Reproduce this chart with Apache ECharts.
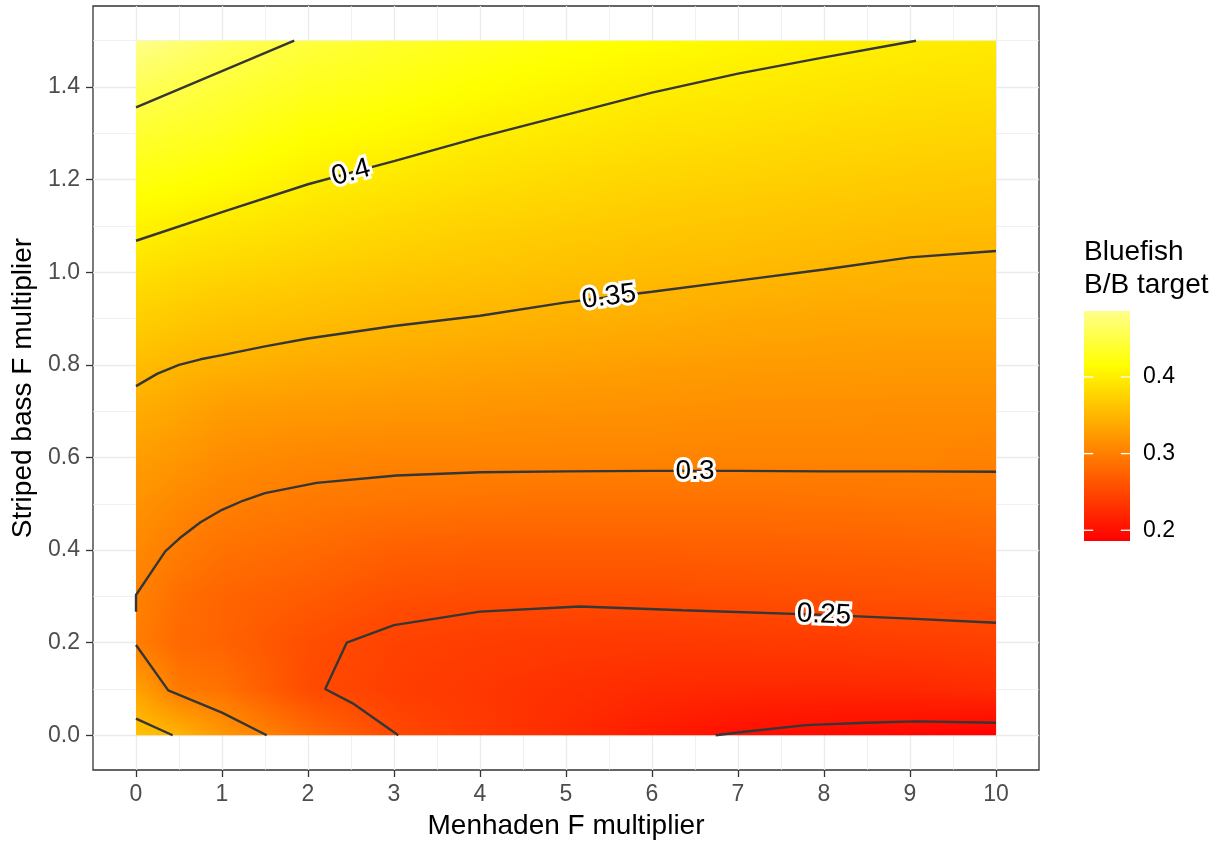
<!DOCTYPE html>
<html>
<head>
<meta charset="utf-8">
<script src="https://cdn.jsdelivr.net/npm/echarts@6/dist/echarts.min.js"></script>
<style>
html,body{margin:0;padding:0;background:#fff;}
#chart{width:1227px;height:845px;}
</style>
</head>
<body>
<div id="chart"></div>
<script>
// ---------------- data ----------------
const menhadenF = [0, 0.5, 1, 2, 3, 4, 5, 6, 7, 8, 9, 10];
const stripedBassF = [0, 0.1, 0.2, 0.3, 0.4, 0.5, 0.6, 0.7, 0.8, 0.9, 1.0, 1.1, 1.2, 1.3, 1.4, 1.5];

// Bluefish B/B target, one row per striped bass F multiplier, across menhadenF
const bb_y00 = [0.362, 0.347, 0.322, 0.284, 0.251, 0.237, 0.224, 0.210, 0.199, 0.195, 0.192, 0.186];
const bb_y01 = [0.331, 0.295, 0.288, 0.253, 0.242, 0.235, 0.229, 0.224, 0.222, 0.221, 0.222, 0.226];
const bb_y02 = [0.299, 0.280, 0.275, 0.256, 0.245, 0.241, 0.238, 0.237, 0.238, 0.239, 0.241, 0.243];
const bb_y03 = [0.302, 0.285, 0.276, 0.268, 0.257, 0.254, 0.254, 0.254, 0.256, 0.257, 0.258, 0.259];
const bb_y04 = [0.309, 0.297, 0.288, 0.281, 0.272, 0.270, 0.270, 0.270, 0.271, 0.272, 0.273, 0.275];
const bb_y05 = [0.318, 0.308, 0.301, 0.294, 0.290, 0.288, 0.287, 0.287, 0.287, 0.288, 0.289, 0.291];
const bb_y06 = [0.328, 0.321, 0.313, 0.307, 0.305, 0.305, 0.305, 0.305, 0.304, 0.304, 0.304, 0.303];
const bb_y07 = [0.341, 0.334, 0.326, 0.323, 0.321, 0.319, 0.317, 0.316, 0.314, 0.314, 0.313, 0.313];
const bb_y08 = [0.356, 0.349, 0.346, 0.340, 0.337, 0.333, 0.331, 0.328, 0.326, 0.325, 0.324, 0.324];
const bb_y09 = [0.372, 0.366, 0.362, 0.357, 0.352, 0.349, 0.345, 0.342, 0.338, 0.336, 0.335, 0.335];
const bb_y10 = [0.388, 0.382, 0.378, 0.372, 0.366, 0.362, 0.358, 0.355, 0.352, 0.349, 0.346, 0.345];
const bb_y11 = [0.405, 0.399, 0.395, 0.387, 0.380, 0.374, 0.370, 0.366, 0.363, 0.360, 0.357, 0.356];
const bb_y12 = [0.423, 0.418, 0.413, 0.401, 0.394, 0.387, 0.382, 0.377, 0.374, 0.371, 0.368, 0.366];
const bb_y13 = [0.440, 0.435, 0.430, 0.416, 0.409, 0.400, 0.395, 0.389, 0.386, 0.382, 0.379, 0.377];
const bb_y14 = [0.459, 0.452, 0.444, 0.431, 0.423, 0.414, 0.407, 0.401, 0.397, 0.393, 0.389, 0.387];
const bb_y15 = [0.486, 0.473, 0.461, 0.446, 0.436, 0.428, 0.420, 0.414, 0.409, 0.404, 0.400, 0.397];
const bbRows = [bb_y00, bb_y01, bb_y02, bb_y03, bb_y04, bb_y05, bb_y06, bb_y07,
                bb_y08, bb_y09, bb_y10, bb_y11, bb_y12, bb_y13, bb_y14, bb_y15];

// contour lines [menhadenF, stripedBassF]
const contour_020 = [[6.74, 0], [7.05, 0.007], [7.79, 0.022], [8.49, 0.027], [9.07, 0.030], [10, 0.027]];
const contour_025 = [[3.05, 0], [2.52, 0.069], [2.2, 0.1], [2.45, 0.2], [3.0, 0.238], [4.0, 0.267],
                     [5.16, 0.278], [6.36, 0.270], [8.0, 0.260], [9.0, 0.252], [10, 0.243]];
const contour_030_low = [[0, 0.195], [0.375, 0.097], [1.0, 0.049], [1.52, 0]];
const contour_030 = [[0, 0.267], [0, 0.303], [0.34, 0.397], [0.51, 0.426], [0.75, 0.46], [1.0, 0.487],
                     [1.25, 0.507], [1.5, 0.523], [2.1, 0.545], [3.03, 0.561], [4.0, 0.568], [5.0, 0.570],
                     [6.0, 0.571], [7.0, 0.571], [8.0, 0.570], [9.0, 0.570], [10, 0.569]];
const contour_035_corner = [[0, 0.036], [0.426, 0]];
const contour_035 = [[0, 0.754], [0.25, 0.781], [0.5, 0.800], [0.75, 0.812], [1.0, 0.821], [1.5, 0.840],
                     [2.0, 0.857], [3.0, 0.884], [4.0, 0.906], [5.0, 0.935], [6.0, 0.958], [7.0, 0.982],
                     [8.0, 1.006], [9.0, 1.032], [10, 1.046]];
const contour_040 = [[0, 1.068], [1.0, 1.130], [2.0, 1.190], [2.5, 1.215], [3.0, 1.240], [4.0, 1.292],
                     [5.0, 1.340], [6.0, 1.388], [7.0, 1.429], [8.0, 1.464], [9.07, 1.5]];
const contour_045 = [[0, 1.356], [1.84, 1.5]];
const contourLines = [contour_020, contour_025, contour_030_low, contour_030,
                      contour_035_corner, contour_035, contour_040, contour_045];

const contourLabelText = ['0.4', '0.35', '0.3', '0.25'];
const contourLabelX = [2.5, 5.5, 6.5, 8.0];
const contourLabelLines = [contour_040, contour_035, contour_030, contour_025];

// axis ticks
const xMajorTicks = [0, 1, 2, 3, 4, 5, 6, 7, 8, 9, 10];
const xMinorTicks = [0.5, 1.5, 2.5, 3.5, 4.5, 5.5, 6.5, 7.5, 8.5, 9.5];
const yMajorTicks = [0, 0.2, 0.4, 0.6, 0.8, 1.0, 1.2, 1.4];
const yMinorTicks = [0.1, 0.3, 0.5, 0.7, 0.9, 1.1, 1.3, 1.5];
const legendTicks = [0.2, 0.3, 0.4];

// ---------------- colour scale ----------------
const FONT = "'Liberation Sans', Arial, Helvetica, sans-serif";
const allVals = bbRows.flat();
const vmin = Math.min(...allVals);
const vmax = Math.max(...allVals);
const colorKnots = [vmin, 0.415, vmax];
const colorRGB = [[255, 0, 0], [255, 255, 0], [255, 255, 140]];

function rgbStr(c) { return 'rgb(' + c.map(Math.round).join(',') + ')'; }
function colorOf(v) {
  if (v <= colorKnots[0]) return rgbStr(colorRGB[0]);
  for (let k = 0; k < colorKnots.length - 1; k++) {
    if (v <= colorKnots[k + 1]) {
      const t = (v - colorKnots[k]) / (colorKnots[k + 1] - colorKnots[k]);
      const a = colorRGB[k], b = colorRGB[k + 1];
      return rgbStr([a[0] + (b[0] - a[0]) * t, a[1] + (b[1] - a[1]) * t, a[2] + (b[2] - a[2]) * t]);
    }
  }
  return rgbStr(colorRGB[colorRGB.length - 1]);
}
function gradStops(va, vb) {
  const stops = [{ offset: 0, color: colorOf(va) }];
  if (vb !== va) {
    const lo = Math.min(va, vb), hi = Math.max(va, vb);
    colorKnots.forEach(function (kv) {
      if (kv > lo && kv < hi) stops.push({ offset: (kv - va) / (vb - va), color: colorOf(kv) });
    });
  }
  stops.push({ offset: 1, color: colorOf(vb) });
  stops.sort(function (a, b) { return a.offset - b.offset; });
  return stops;
}

// ---------------- heat cells ----------------
const cellData = [];
for (let j = 0; j < stripedBassF.length - 1; j++) {
  for (let i = 0; i < menhadenF.length - 1; i++) {
    cellData.push([menhadenF[i], stripedBassF[j], menhadenF[i + 1], stripedBassF[j + 1],
                   bbRows[j][i], bbRows[j][i + 1], bbRows[j + 1][i], bbRows[j + 1][i + 1]]);
  }
}
const xEnd = menhadenF[menhadenF.length - 1];
const yStart = stripedBassF[0];

function renderCell(params, api) {
  const x0 = api.value(0), y0 = api.value(1), x1 = api.value(2), y1 = api.value(3);
  const v00 = api.value(4), v10 = api.value(5), v01 = api.value(6), v11 = api.value(7);
  const pBL = api.coord([x0, y0]), pTR = api.coord([x1, y1]);
  const left = pBL[0], right = pTR[0], top = pTR[1], bottom = pBL[1];
  const H = bottom - top;
  const n = Math.max(1, Math.round(H / 2));
  const w = right - left + (x1 < xEnd ? 0.8 : 0);
  const children = [];
  for (let k = 0; k < n; k++) {
    const ya = top + H * k / n, yb = top + H * (k + 1) / n;
    const t = 1 - (k + 0.5) / n;
    const vl = v00 + (v01 - v00) * t, vr = v10 + (v11 - v10) * t;
    const extra = (k < n - 1 || y0 > yStart) ? 0.8 : 0;
    children.push({
      type: 'rect',
      shape: { x: left, y: ya, width: w, height: yb - ya + extra },
      style: { fill: { type: 'linear', x: 0, y: 0, x2: 1, y2: 0, colorStops: gradStops(vl, vr), global: false } },
      silent: true
    });
  }
  return { type: 'group', children: children };
}

// ---------------- contour labels ----------------
function yOnLine(line, x) {
  let res = null;
  for (let i = 0; i < line.length - 1; i++) {
    const a = line[i], b = line[i + 1];
    if (a[0] === b[0]) continue;
    if ((a[0] <= x && x <= b[0]) || (b[0] <= x && x <= a[0])) {
      res = a[1] + (b[1] - a[1]) * (x - a[0]) / (b[0] - a[0]);
    }
  }
  return res;
}
const labelData = contourLabelX.map(function (x, i) { return [x, yOnLine(contourLabelLines[i], x)]; });

function renderLabel(params, api) {
  const i = params.dataIndex;
  const line = contourLabelLines[i];
  const x = api.value(0), y = api.value(1);
  const c = api.coord([x, y]);
  const pa = api.coord([x - 0.3, yOnLine(line, x - 0.3)]);
  const pb = api.coord([x + 0.3, yOnLine(line, x + 0.3)]);
  const rot = -Math.atan2(pb[1] - pa[1], pb[0] - pa[0]);
  const txt = contourLabelText[i];
  return {
    type: 'group',
    children: [
      { type: 'text', x: c[0], y: c[1], rotation: rot, silent: true,
        style: { text: txt, fontSize: 28, fontFamily: FONT, fill: '#ffffff', stroke: '#ffffff', lineWidth: 6,
                 align: 'center', verticalAlign: 'middle' } },
      { type: 'text', x: c[0], y: c[1], rotation: rot, silent: true,
        style: { text: txt, fontSize: 28, fontFamily: FONT, fill: '#000000',
                 align: 'center', verticalAlign: 'middle' } }
    ]
  };
}

// ---------------- colour bar ----------------
function renderBar(params, api) {
  const pTop = api.coord([0, vmax]), pBot = api.coord([1, vmin]);
  const x = pTop[0], y = pTop[1], w = pBot[0] - pTop[0], h = pBot[1] - pTop[1];
  const children = [{
    type: 'rect', shape: { x: x, y: y, width: w, height: h }, silent: true,
    style: { fill: { type: 'linear', x: 0, y: 0, x2: 0, y2: 1, colorStops: gradStops(vmax, vmin), global: false } }
  }];
  legendTicks.forEach(function (v) {
    const p = api.coord([0, v]);
    children.push({ type: 'line', silent: true, shape: { x1: x, y1: p[1], x2: x + w / 5, y2: p[1] },
                    style: { stroke: '#ffffff', lineWidth: 1.3 } });
    children.push({ type: 'line', silent: true, shape: { x1: x + w - w / 5, y1: p[1], x2: x + w, y2: p[1] },
                    style: { stroke: '#ffffff', lineWidth: 1.3 } });
  });
  return { type: 'group', children: children };
}

// ---------------- chart ----------------
const chart = echarts.init(document.getElementById('chart'), null, { renderer: 'canvas' });
const tickLine = { color: '#333333', width: 1.3 };
const majorGrid = { color: '#EBEBEB', width: 1.3 };
const minorGrid = { color: '#EBEBEB', width: 0.7 };

const series = [{
  type: 'custom', name: 'heat', xAxisIndex: 0, yAxisIndex: 0, renderItem: renderCell,
  data: cellData, encode: { x: [0, 2], y: [1, 3] }, z: 2, silent: true, animation: false
}];
contourLines.forEach(function (line) {
  series.push({
    type: 'line', xAxisIndex: 0, yAxisIndex: 0, data: line, symbol: 'none', showSymbol: false,
    lineStyle: { color: '#363636', width: 2.4 }, z: 3, silent: true, animation: false
  });
});
series.push({
  type: 'custom', name: 'labels', xAxisIndex: 0, yAxisIndex: 0, renderItem: renderLabel,
  data: labelData, z: 5, silent: true, animation: false
});
series.push({
  type: 'custom', name: 'bar', xAxisIndex: 2, yAxisIndex: 2, renderItem: renderBar,
  data: [[0, vmin]], z: 2, silent: true, animation: false
});

chart.setOption({
  animation: false,
  backgroundColor: '#ffffff',
  textStyle: { fontFamily: FONT },
  title: {
    text: 'Bluefish\nB/B target', left: 1084, top: 236, padding: 0,
    textStyle: { fontSize: 28, fontWeight: 'normal', color: '#000000', lineHeight: 33, fontFamily: FONT }
  },
  grid: [
    { left: 93, top: 6, width: 946, height: 764, show: true, borderColor: '#333333', borderWidth: 1.3,
      backgroundColor: '#ffffff', containLabel: false, outerBoundsMode: 'none' },
    { left: 1084, top: 311, width: 46, height: 230, containLabel: false, outerBoundsMode: 'none' }
  ],
  xAxis: [
    { gridIndex: 0, type: 'value', min: -0.5, max: 10.5, position: 'bottom',
      axisLine: { show: false, onZero: false },
      axisTick: { show: true, customValues: xMajorTicks, length: 7, lineStyle: tickLine },
      axisLabel: { customValues: xMajorTicks, formatter: function (v) { return String(v); },
                   color: '#4D4D4D', fontSize: 23, margin: 13, fontFamily: FONT },
      splitLine: { show: true, lineStyle: majorGrid },
      name: 'Menhaden F multiplier', nameLocation: 'middle', nameGap: 42,
      nameTextStyle: { fontSize: 28, color: '#000000', lineHeight: 28, fontFamily: FONT } },
    { gridIndex: 0, type: 'value', min: -0.5, max: 10.5, position: 'top',
      axisLine: { show: false, onZero: false },
      axisTick: { show: false, customValues: xMinorTicks },
      axisLabel: { show: false, customValues: xMinorTicks },
      splitLine: { show: true, lineStyle: minorGrid } },
    { gridIndex: 1, type: 'value', min: 0, max: 1, show: false }
  ],
  yAxis: [
    { gridIndex: 0, type: 'value', min: -0.075, max: 1.575, position: 'left',
      axisLine: { show: false, onZero: false },
      axisTick: { show: true, customValues: yMajorTicks, length: 7, lineStyle: tickLine },
      axisLabel: { customValues: yMajorTicks, formatter: function (v) { return v.toFixed(1); },
                   color: '#4D4D4D', fontSize: 23, margin: 13, fontFamily: FONT },
      splitLine: { show: true, lineStyle: majorGrid },
      name: 'Striped bass F multiplier', nameLocation: 'middle', nameGap: 52,
      nameTextStyle: { fontSize: 28, color: '#000000', lineHeight: 28, fontFamily: FONT } },
    { gridIndex: 0, type: 'value', min: -0.075, max: 1.575, position: 'right',
      axisLine: { show: false, onZero: false },
      axisTick: { show: false, customValues: yMinorTicks },
      axisLabel: { show: false, customValues: yMinorTicks },
      splitLine: { show: true, lineStyle: minorGrid } },
    { gridIndex: 1, type: 'value', min: vmin, max: vmax, position: 'right',
      axisLine: { show: false, onZero: false },
      axisTick: { show: false, customValues: legendTicks },
      axisLabel: { customValues: legendTicks, formatter: function (v) { return v.toFixed(1); },
                   color: '#000000', fontSize: 23, margin: 13, fontFamily: FONT },
      splitLine: { show: false } }
  ],
  series: series
});
</script>
</body>
</html>
